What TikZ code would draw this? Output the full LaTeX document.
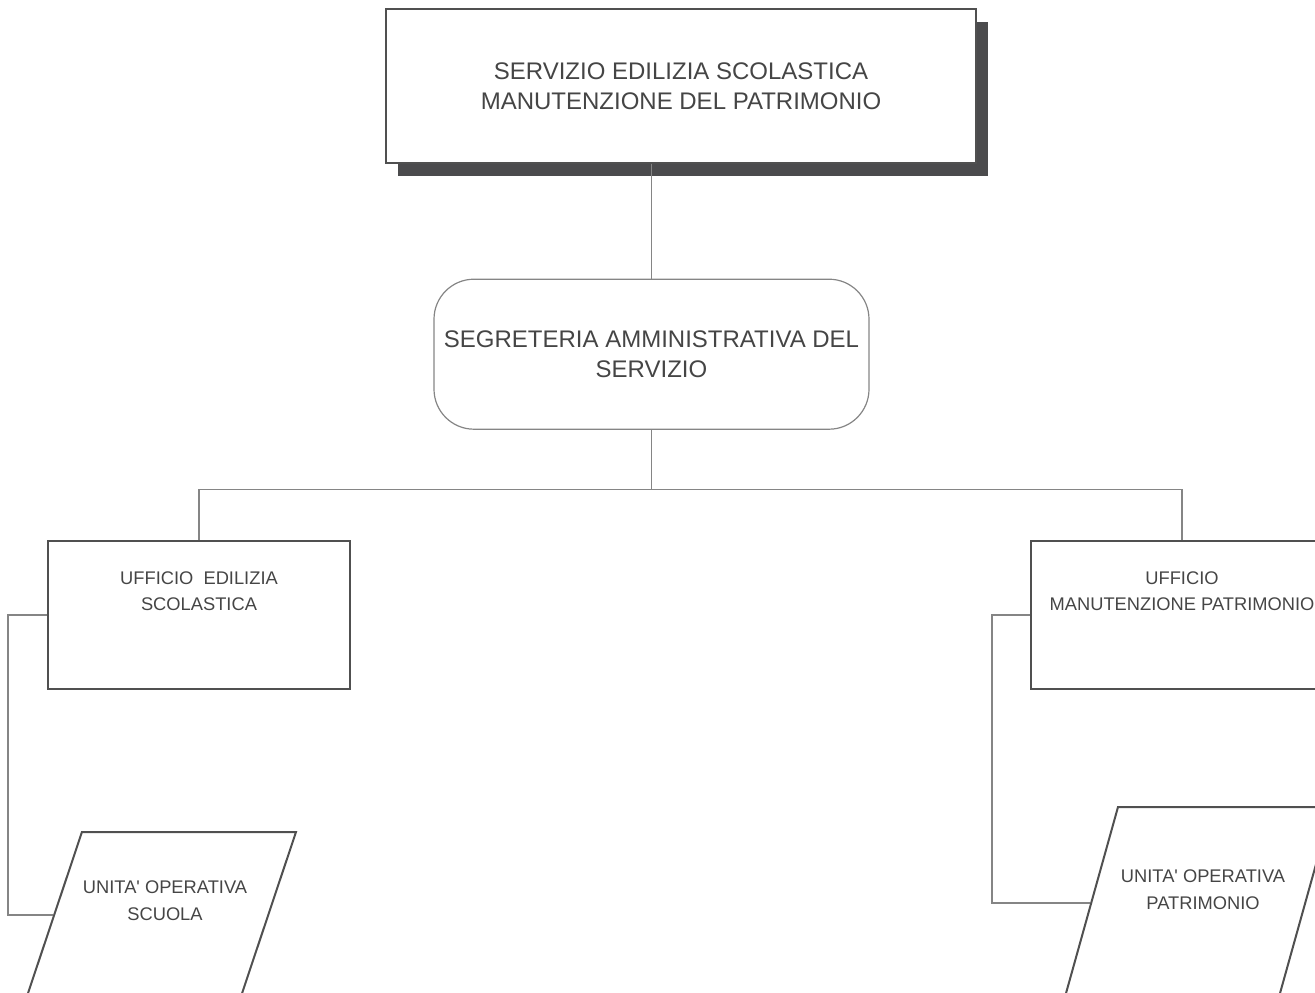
\documentclass[tikz,border=0pt]{standalone}
\usepackage{fontspec}
\setmainfont{Liberation Sans}
\usetikzlibrary{positioning,shapes.geometric,shadows}
\definecolor{testo}{HTML}{454545}
\definecolor{bordo}{HTML}{505050}
\definecolor{linea}{HTML}{858585}
\definecolor{ombra}{HTML}{4B4B4D}
\tikzstyle{capo}=[
	draw=bordo,
	line width=1.2pt,
	fill=white,
	rectangle,
	minimum width=590pt,
	minimum height=154pt,
	align=center,
	text=testo,
	font=\fontsize{24}{30}\selectfont,
	drop shadow={shadow xshift=12pt,shadow yshift=-13pt,fill=ombra,opacity=1}]
\tikzstyle{segreteria}=[
	draw=linea,
	line width=1.2pt,
	rectangle,
	rounded corners=40pt,
	minimum width=435pt,
	minimum height=150pt,
	align=center,
	text=testo,
	font=\fontsize{24}{30}\selectfont]
\tikzstyle{ufficio}=[
	draw=bordo,
	line width=2pt,
	rectangle,
	minimum width=302pt,
	minimum height=148pt,
	align=center,
	text=testo,
	text height=14pt,
	text depth=23pt,
	font=\fontsize{18.3}{26}\selectfont]
\tikzstyle{unita}=[
	draw=bordo,
	line width=2pt,
	trapezium,
	trapezium stretches body,
	inner sep=0pt,
	text depth=0pt]
\tikzstyle{etichetta}=[
	align=center,
	text=testo,
	font=\fontsize{18.3}{27}\selectfont]
\tikzstyle{link}=[
	draw=linea,
	line width=1.2pt]

\begin{document}
\begin{tikzpicture}[x=1pt,y=-1pt]
	\clip (0,0) rectangle (1315,993);
	\node[capo] (servizio) at (681,86) {SERVIZIO EDILIZIA SCOLASTICA\\MANUTENZIONE DEL PATRIMONIO};
	\node[segreteria,below=115pt of servizio,xshift=-29.5pt] (segreteria) {SEGRETERIA AMMINISTRATIVA DEL\\SERVIZIO};
	\coordinate[below=60pt of segreteria.south] (snodo);
	\node[ufficio] (uffedilizia) at (199,615) {UFFICIO~~EDILIZIA\\SCOLASTICA};
	\node[ufficio] (uffmanut) at (1182,615) {UFFICIO\\MANUTENZIONE PATRIMONIO};
	\node[unita,trapezium left angle=71.5,trapezium right angle=108.5,minimum width=269.6pt,text height=166pt]
		(uoscuola) at (161.2,915) {};
	\node[etichetta] (txscuola) at (165,901) {UNITA\textquotesingle{} OPERATIVA\\SCUOLA};
	\node[unita,trapezium left angle=74.4,trapezium right angle=105.6,minimum width=267.6pt,text height=192pt]
		(uopatrimonio) at (1198.2,903) {};
	\node[etichetta] (txpatrimonio) at (1203,890) {UNITA\textquotesingle{} OPERATIVA\\PATRIMONIO};
	% collegamenti
	\draw[link] (segreteria.north |- servizio.south) -- (segreteria.north);
	\draw[link] (segreteria.south) -- (snodo) -| (uffedilizia.north);
	\draw[link] (snodo) -| (uffmanut.north);
	\coordinate[left=39pt of uffedilizia.west] (gomitoed);
	\coordinate[left=38pt of uffmanut.west] (gomitoman);
	\draw[link] (uffedilizia.west) -- (gomitoed) |- (uoscuola.west);
	\draw[link] (uffmanut.west) -- (gomitoman) |- (uopatrimonio.west);
\end{tikzpicture}
\end{document}
